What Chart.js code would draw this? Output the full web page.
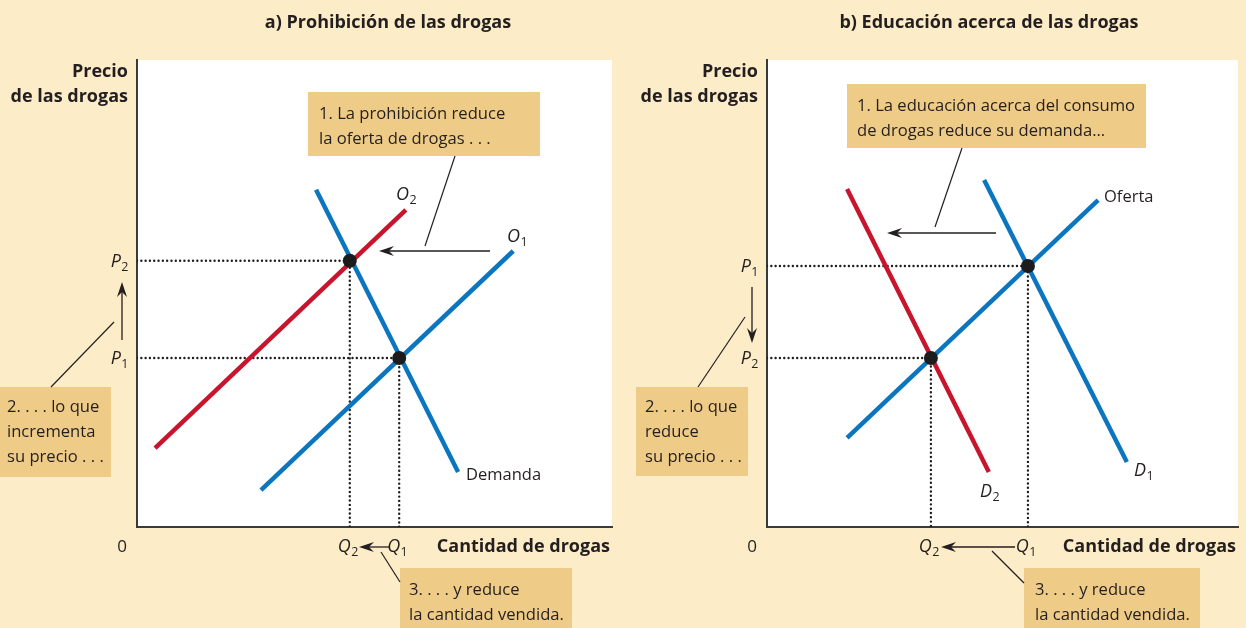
<!DOCTYPE html>
<html><head><meta charset="utf-8">
<script src="https://cdn.jsdelivr.net/npm/chart.js@4.4.1/dist/chart.umd.min.js"></script>
<style>
html,body{margin:0;padding:0;background:#fdecc8;width:1246px;height:628px;overflow:hidden;}
.wrap{position:absolute;top:0;width:623px;height:628px;}
#wa{left:0;} #wb{left:623px;}
canvas{display:block}
</style></head><body>
<div class="wrap" id="wa"><canvas id="ca" width="623" height="628"></canvas></div>
<div class="wrap" id="wb"><canvas id="cb" width="623" height="628"></canvas></div>
<script>
// ---------- Panel a: prohibition (supply shift) ----------
const demandA = [{x:37.7,y:72.2},{x:67.6,y:11.8}];
const supplyA1 = [{x:26.1,y:7.9},{x:79.2,y:59.1}];
const supplyA2 = [{x:3.8,y:16.9},{x:56.6,y:67.9}];
const equilibriumA = [{x:55.2,y:36.2},{x:44.8,y:57.0}];
const priceLabelsA = ['P1','P2'];
const quantityLabelsA = ['Q1','Q2'];

// ---------- Panel b: education (demand shift) ----------
const demandB1 = [{x:46.1,y:74.3},{x:76.4,y:13.9}];
const demandB2 = [{x:17.0,y:72.4},{x:47.1,y:11.8}];
const supplyB = [{x:17.0,y:19.1},{x:70.3,y:70.0}];
const equilibriumB = [{x:55.4,y:55.9},{x:34.8,y:36.2}];
const priceLabelsB = ['P1','P2'];
const quantityLabelsB = ['Q1','Q2'];

const BLUE = '#0b76bf', RED = '#c8142c', INK = '#231f20', BOXC = '#eecb86';
const FONT = '"Open Sans", "Liberation Sans", sans-serif';

function setFont(ctx, size, bold, italic){
  ctx.font = (italic?'italic ':'') + (bold?'bold ':'') + size + 'px ' + FONT;
}
function text(ctx, s, x, y, size, o){
  o = o || {};
  setFont(ctx, size, o.bold, o.italic);
  ctx.fillStyle = INK; ctx.textAlign = o.align || 'left'; ctx.textBaseline = 'alphabetic';
  ctx.fillText(s, x, y);
}
function subLabel(ctx, lab, x, y, align){
  const main = lab.charAt(0), sub = lab.slice(1);
  setFont(ctx, 18, false, true); const w1 = ctx.measureText(main).width;
  setFont(ctx, 12.5, false, false); const w2 = ctx.measureText(sub).width;
  let x0 = x;
  if (align === 'right') x0 = x - w1 - w2;
  else if (align === 'center') x0 = x - (w1 + w2) / 2;
  ctx.textAlign = 'left'; ctx.fillStyle = INK; ctx.textBaseline = 'alphabetic';
  setFont(ctx, 18, false, true); ctx.fillText(main, x0, y);
  setFont(ctx, 12.5, false, false); ctx.fillText(sub, x0 + w1 + 0.5, y + 4);
}
function seg(ctx, x1, y1, x2, y2, w){
  ctx.strokeStyle = INK; ctx.lineWidth = w || 1.2; ctx.setLineDash([]);
  ctx.beginPath(); ctx.moveTo(x1, y1); ctx.lineTo(x2, y2); ctx.stroke();
}
function arrow(ctx, x1, y1, x2, y2){
  const a = Math.atan2(y2 - y1, x2 - x1), c = Math.cos(a), s = Math.sin(a);
  const L = 15, W = 5, N = 10;
  seg(ctx, x1, y1, x2 - N * c, y2 - N * s, 1.3);
  const bx = x2 - L * c, by = y2 - L * s;
  ctx.fillStyle = INK; ctx.beginPath(); ctx.moveTo(x2, y2);
  ctx.lineTo(bx - W * s, by + W * c); ctx.lineTo(x2 - N * c, y2 - N * s);
  ctx.lineTo(bx + W * s, by - W * c); ctx.closePath(); ctx.fill();
}
function box(ctx, b){
  ctx.fillStyle = BOXC; ctx.fillRect(b.x, b.y, b.w, b.h);
  b.lines.forEach((l, i) => text(ctx, l, b.tx, b.ty + i * 25, 16.6));
}

const whiteArea = {
  id: 'whiteArea',
  beforeDraw(chart){
    const {ctx, chartArea: a} = chart;
    ctx.save(); ctx.fillStyle = '#ffffff';
    ctx.fillRect(a.left, a.top, a.right - a.left, a.bottom - a.top); ctx.restore();
  }
};

function annotations(spec){
  return {
    id: 'ann',
    afterDraw(chart){
      const {ctx, chartArea: a, scales: {x, y}} = chart;
      ctx.save();
      text(ctx, spec.title, spec.titleX, 28, 18, {bold: true, align: 'center'});
      text(ctx, 'Precio', a.left - 9, 77, 18, {bold: true, align: 'right'});
      text(ctx, 'de las drogas', a.left - 9, 102, 18, {bold: true, align: 'right'});
      text(ctx, 'Cantidad de drogas', a.right - 2, 552, 18, {bold: true, align: 'right'});
      text(ctx, '0', a.left - 15, 552, 17, {align: 'center'});
      spec.eq.forEach((p, i) => {
        subLabel(ctx, spec.pLabels[i], a.left - 9, y.getPixelForValue(p.y) + 6, 'right');
        subLabel(ctx, spec.qLabels[i], x.getPixelForValue(p.x) - 2, 552, 'center');
      });
      spec.curveLabels.forEach(c => {
        if (c.plain) text(ctx, c.t, c.x, c.y, 16.5);
        else subLabel(ctx, c.t, c.x, c.y, 'left');
      });
      spec.boxes.forEach(b => box(ctx, b));
      spec.leaders.forEach(l => seg(ctx, l[0], l[1], l[2], l[3], 1.2));
      spec.arrows.forEach(l => arrow(ctx, l[0], l[1], l[2], l[3]));
      ctx.restore();
    }
  };
}

function guides(eq){ return eq.map(p => [{x:0,y:p.y},{x:p.x,y:p.y},{x:p.x,y:0}]); }
function datasets(curves, eq){
  const ds = [{data: eq, showLine: false, pointRadius: 7, pointBackgroundColor: '#1c1c1c', pointBorderWidth: 0, order: 0}];
  curves.forEach(c => ds.push({data: c.data, showLine: true, borderColor: c.color, borderWidth: 4.5, pointRadius: 0, order: 1}));
  guides(eq).forEach(g => ds.push({data: g, showLine: true, borderColor: '#1e1e1e', borderWidth: 2.4,
    borderDash: [0.01, 4.3], borderCapStyle: 'round', pointRadius: 0, order: 2}));
  return ds;
}
function axis(){
  return {type: 'linear', min: 0, max: 100, grid: {display: false, drawTicks: false}, ticks: {display: false},
          border: {display: true, color: '#3a3a3a', width: 2}};
}
function make(id, curves, eq, pad, spec){
  return new Chart(document.getElementById(id), {
    type: 'scatter',
    data: {datasets: datasets(curves, eq)},
    options: {
      responsive: false, animation: false, devicePixelRatio: 1, events: [],
      layout: {padding: pad, autoPadding: false},
      scales: {x: axis(), y: axis()},
      plugins: {legend: {display: false}, tooltip: {enabled: false}}
    },
    plugins: [whiteArea, annotations(spec)]
  });
}

make('ca',
  [{data: supplyA2, color: RED}, {data: supplyA1, color: BLUE}, {data: demandA, color: BLUE}],
  equilibriumA, {left: 137, right: 11, top: 60, bottom: 101},
  {
    title: 'a) Prohibición de las drogas', titleX: 388,
    eq: equilibriumA, pLabels: priceLabelsA, qLabels: quantityLabelsA,
    curveLabels: [{t: 'O2', x: 396, y: 200}, {t: 'O1', x: 507, y: 242}, {t: 'Demanda', x: 466, y: 480, plain: true}],
    boxes: [
      {x: 308, y: 92, w: 232, h: 64, tx: 319, ty: 119, lines: ['1. La prohibición reduce', 'la oferta de drogas . . .']},
      {x: 0, y: 387, w: 111, h: 90, tx: 7, ty: 412, lines: ['2. . . . lo que', 'incrementa', 'su precio . . .']},
      {x: 400, y: 568, w: 172, h: 60, tx: 409, ty: 595, lines: ['3. . . . y reduce', 'la cantidad vendida.']}
    ],
    leaders: [[455, 156, 425, 246], [51, 387, 114, 322], [381, 552, 400, 582]],
    arrows: [[490, 251, 379, 251], [122, 340, 122, 282], [389, 547, 359, 547]]
  });

make('cb',
  [{data: demandB2, color: RED}, {data: supplyB, color: BLUE}, {data: demandB1, color: BLUE}],
  equilibriumB, {left: 144, right: 8, top: 60, bottom: 101},
  {
    title: 'b) Educación acerca de las drogas', titleX: 366,
    eq: equilibriumB, pLabels: priceLabelsB, qLabels: quantityLabelsB,
    curveLabels: [{t: 'Oferta', x: 481, y: 202, plain: true}, {t: 'D1', x: 511, y: 476}, {t: 'D2', x: 357, y: 497}],
    boxes: [
      {x: 224, y: 84, w: 299, h: 64, tx: 234, ty: 111, lines: ['1. La educación acerca del consumo', 'de drogas reduce su demanda...']},
      {x: 13, y: 387, w: 112, h: 89, tx: 22, ty: 412, lines: ['2. . . . lo que', 'reduce', 'su precio . . .']},
      {x: 401, y: 568, w: 176, h: 60, tx: 412, ty: 595, lines: ['3. . . . y reduce', 'la cantidad vendida.']}
    ],
    leaders: [[339, 148, 312, 227], [75, 387, 122, 317], [369, 551, 401, 583]],
    arrows: [[373, 233, 264, 233], [129, 287, 129, 343], [392, 547, 318, 547]]
  });
</script>
</body></html>
